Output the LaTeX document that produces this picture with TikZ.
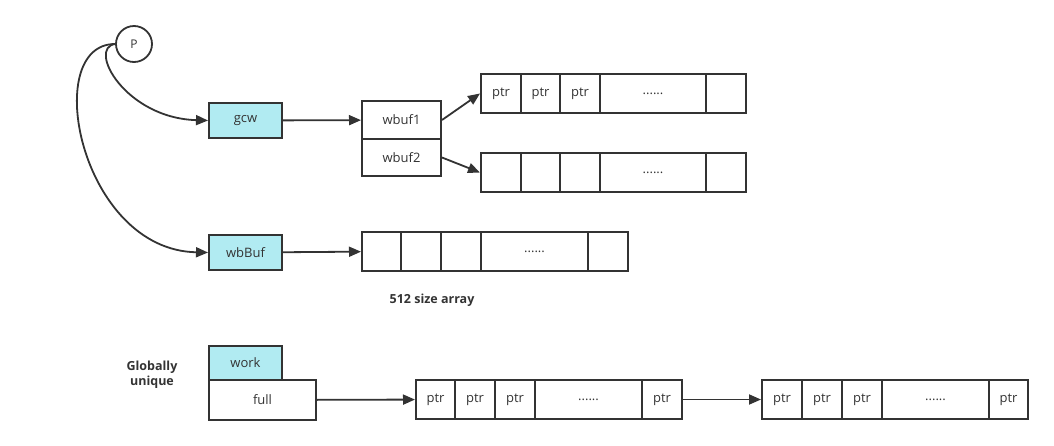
\documentclass[tikz,border=0pt]{standalone}
\usepackage{fontspec}
\setmainfont{Open Sans}
\usetikzlibrary{arrows.meta}
\definecolor{linegray}{HTML}{333333}
\definecolor{boxcyan}{HTML}{B1EBF2}
\newcommand{\celldots}{......}

\begin{document}
\begin{tikzpicture}[x=1pt, y=-1pt,
    box/.style={draw=linegray, line width=2pt, text=linegray, inner sep=0pt, font=\fontsize{13}{15}\selectfont},
    cell/.style={box, minimum height=39pt},
    arr/.style={-{Triangle[length=12pt,width=10pt]}, draw=linegray, line width=1.8pt},
    lbl/.style={text=linegray, font=\fontsize{12.5}{15}\selectfont\bfseries, align=center}]
    \useasboundingbox (0,0) rectangle (1054,445);
    %go gc work buffers
    \node[circle, draw=linegray, line width=1.8pt, minimum size=36pt, inner sep=0pt, text=linegray, font=\fontsize{12}{14}\selectfont] at (134,44) (P){P};
    \node[box, fill=boxcyan, minimum width=73pt, minimum height=35pt] at (245.5,120.5) (gcw){gcw};
    \node[box, fill=boxcyan, minimum width=73pt, minimum height=35pt] at (245.5,252.5) (wbBuf){wbBuf};
    \node[box, minimum width=79pt, minimum height=38pt] at (401.5,120) (wbuf1){wbuf1};
    \node[box, minimum width=79pt, minimum height=37pt] at (401.5,157.5) (wbuf2){wbuf2};
    \node[box, fill=boxcyan, minimum width=73pt, minimum height=34pt] at (245.5,363) (work){work};
    \node[box, minimum width=107pt, minimum height=40pt] at (262.5,400) (full){full};
    % arrays
    \foreach \n/\x/\w/\t in {t1/501/40/ptr, t2/540.5/39/ptr, t3/580/40/ptr, t4/653/106/\celldots, t5/726/40/}
        \node[cell, minimum width=\w pt] at (\x,93.5) (\n){\t};
    \foreach \n/\x/\w/\t in {s1/501/40/, s2/540.5/39/, s3/580/40/, s4/653/106/\celldots, s5/726/40/}
        \node[cell, minimum width=\w pt] at (\x,172.5) (\n){\t};
    \foreach \n/\x/\w/\t in {b1/381.5/39/, b2/421/40/, b3/461/40/, b4/534.5/107/\celldots, b5/608/40/}
        \node[cell, minimum width=\w pt] at (\x,251.5) (\n){\t};
    \foreach \n/\x/\w/\t in {f1/435.5/39/ptr, f2/475/40/ptr, f3/515/40/ptr, f4/588.5/107/\celldots, f5/662/40/ptr}
        \node[cell, minimum width=\w pt] at (\x,399.5) (\n){\t};
    \foreach \n/\x/\w/\t in {g1/782/40/ptr, g2/822/40/ptr, g3/862/40/ptr, g4/935.5/107/\celldots, g5/1008.5/39/ptr}
        \node[cell, minimum width=\w pt] at (\x,399.5) (\n){\t};
    \node[lbl] at (432,300) (size){512 size array};
    \node[lbl] at (152,375) (glob){Globally\\unique};
    % connectors
    \draw[arr] (P.west) .. controls (87,48) and (125,118) .. (gcw.west);
    \draw[arr] (P.west) .. controls (40,44) and (80,250) .. (wbBuf.west);
    \draw[arr] (gcw) -- (wbuf1);
    \draw[arr] (wbuf1.east) -- (t1.west);
    \draw[arr] (wbuf2.east) -- (s1.west);
    \draw[arr] (wbBuf) -- (b1);
    \draw[arr] (full) -- (f1);
    \draw[arr] (f5) -- (g1);
\end{tikzpicture}
\end{document}
